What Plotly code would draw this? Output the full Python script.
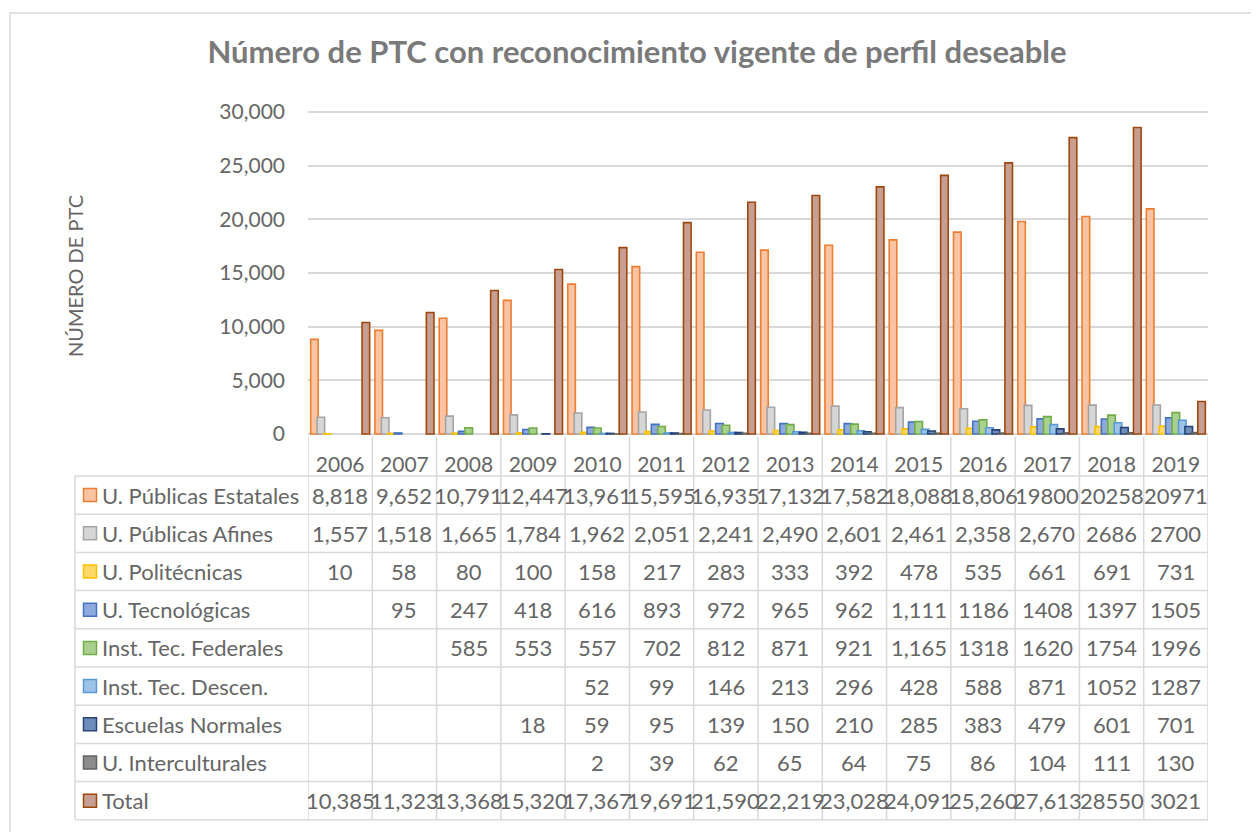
import plotly.graph_objects as go

# ---------------- data ----------------
years = ["2006", "2007", "2008", "2009", "2010", "2011", "2012",
         "2013", "2014", "2015", "2016", "2017", "2018", "2019"]

series_names = ["U. Públicas Estatales", "U. Públicas Afines", "U. Politécnicas",
                "U. Tecnológicas", "Inst. Tec. Federales", "Inst. Tec. Descen.",
                "Escuelas Normales", "U. Interculturales", "Total"]

# table texts exactly as printed (blank = no data)
publicas_estatales = ["8,818", "9,652", "10,791", "12,447", "13,961", "15,595", "16,935",
                      "17,132", "17,582", "18,088", "18,806", "19800", "20258", "20971"]
publicas_afines = ["1,557", "1,518", "1,665", "1,784", "1,962", "2,051", "2,241",
                   "2,490", "2,601", "2,461", "2,358", "2,670", "2686", "2700"]
politecnicas = ["10", "58", "80", "100", "158", "217", "283",
                "333", "392", "478", "535", "661", "691", "731"]
tecnologicas = ["", "95", "247", "418", "616", "893", "972",
                "965", "962", "1,111", "1186", "1408", "1397", "1505"]
tec_federales = ["", "", "585", "553", "557", "702", "812",
                 "871", "921", "1,165", "1318", "1620", "1754", "1996"]
tec_descen = ["", "", "", "", "52", "99", "146",
              "213", "296", "428", "588", "871", "1052", "1287"]
escuelas_normales = ["", "", "", "18", "59", "95", "139",
                     "150", "210", "285", "383", "479", "601", "701"]
interculturales = ["", "", "", "", "2", "39", "62",
                   "65", "64", "75", "86", "104", "111", "130"]
total = ["10,385", "11,323", "13,368", "15,320", "17,367", "19,691", "21,590",
         "22,219", "23,028", "24,091", "25,260", "27,613", "28550", "3021"]

series_texts = [publicas_estatales, publicas_afines, politecnicas, tecnologicas,
                tec_federales, tec_descen, escuelas_normales, interculturales, total]

fill_colors = ["#F8C4A4", "#D6D6D6", "#FFD966", "#8EA9DB", "#A9D08E",
               "#9DC3E6", "#6F8DB9", "#8C8C8C", "#C79E92"]
line_colors = ["#ED7D31", "#A5A5A5", "#FFC000", "#4472C4", "#70AD47",
               "#5B9BD5", "#264478", "#636363", "#9E480E"]

y_ticks = [0, 5000, 10000, 15000, 20000, 25000, 30000]

# ---------------- layout geometry (reference-window pixels) ----------------
OFF = 8                      # page body margin of the html page
WIN_W, WIN_H = 1259, 832
W, H = WIN_W - OFF, WIN_H - OFF
L, R, T, B = 308, 1208, 100, 440   # plot area in window pixels
TABLE_LEFT = 75
TABLE_TOP = 476
ROW_H = 38.2
GRID = "#D9D9D9"
TXT = "#666666"
FONT = "Lato"


def px(xp):
    return (xp - L) / (R - L)


def py(yp):
    return (B - yp) / (B - T)


def to_num(s):
    return int(s.replace(",", "")) if s else None


fig = go.Figure()
x_idx = list(range(len(years)))
n_series = len(series_names)
group_w = 0.9
step = group_w / n_series
bar_w = step * 1.18
for k, (name, texts, fc, lc) in enumerate(zip(series_names, series_texts, fill_colors, line_colors)):
    fig.add_trace(go.Bar(
        x=x_idx, y=[to_num(s) for s in texts], name=name,
        width=bar_w, offset=-group_w / 2 + k * step - (bar_w - step) / 2,
        marker=dict(color=fc, line=dict(color=lc, width=1.6)),
        showlegend=False,
    ))

# y range so that 0 -> 434px and 30000 -> 112px
scale = (434 - 112) / 30000.0
y_lo = -(B - 434) / scale
y_hi = 30000 + (112 - T) / scale

shapes = []
annotations = []

# outer chart border
shapes.append(dict(type="rect", xref="paper", yref="paper",
                   x0=px(10), x1=px(1275), y0=py(13), y1=py(845),
                   line=dict(color="#D9D9D9", width=1.5)))

n_rows = len(series_names)
table_bottom = TABLE_TOP + n_rows * ROW_H

# vertical table lines at category boundaries
for k in range(len(years) + 1):
    shapes.append(dict(type="line", xref="x", yref="paper",
                       x0=k - 0.5, x1=k - 0.5, y0=py(437), y1=py(table_bottom),
                       line=dict(color=GRID, width=1.5)))
# left border of label column
shapes.append(dict(type="line", xref="paper", yref="paper",
                   x0=px(TABLE_LEFT), x1=px(TABLE_LEFT), y0=py(TABLE_TOP), y1=py(table_bottom),
                   line=dict(color=GRID, width=1.5)))
# horizontal row lines
for r in range(n_rows + 1):
    yy = TABLE_TOP + r * ROW_H
    shapes.append(dict(type="line", xref="paper", yref="paper",
                       x0=px(TABLE_LEFT), x1=1, y0=py(yy), y1=py(yy),
                       line=dict(color=GRID, width=1.5)))

# row contents
for r, (name, texts, fc, lc) in enumerate(zip(series_names, series_texts, fill_colors, line_colors)):
    cy = TABLE_TOP + r * ROW_H + ROW_H / 2
    shapes.append(dict(type="rect", xref="paper", yref="paper",
                       x0=px(83.5), x1=px(96.5), y0=py(cy - 6.5), y1=py(cy + 6.5),
                       fillcolor=fc, line=dict(color=lc, width=1.5)))
    annotations.append(dict(xref="paper", yref="paper", x=px(99.5), y=py(cy),
                            text=name, showarrow=False, xanchor="left", yanchor="middle",
                            font=dict(family=FONT, size=22, color=TXT)))
    for i, s in enumerate(texts):
        if s:
            annotations.append(dict(xref="x", yref="paper", x=i, y=py(cy), text=s,
                                    showarrow=False, xanchor="center", yanchor="middle",
                                    font=dict(family=FONT, size=22, color=TXT)))

# y axis title
annotations.append(dict(xref="paper", yref="paper", x=px(75), y=py(276),
                        text="NÚMERO DE PTC", textangle=-90, showarrow=False,
                        xanchor="center", yanchor="middle",
                        font=dict(family=FONT, size=20, color=TXT)))

fig.update_layout(
    width=W, height=H,
    margin=dict(l=L - OFF, r=WIN_W - R, t=T - OFF, b=WIN_H - B),
    paper_bgcolor="white", plot_bgcolor="white",
    barmode="overlay",
    title=dict(text="<b>Número de PTC con reconocimiento vigente de perfil deseable</b>",
               x=(637 - OFF) / W, xanchor="center", y=1 - (52 - OFF) / H, yanchor="middle",
               font=dict(family=FONT, size=31, color="#7A7A7A")),
    xaxis=dict(range=[-0.5, len(years) - 0.5], tickvals=x_idx, ticktext=years,
               showgrid=False, zeroline=False, showline=False, ticks="",
               ticklabelstandoff=10,
               tickfont=dict(family=FONT, size=21, color=TXT)),
    yaxis=dict(range=[y_lo, y_hi], tickvals=y_ticks, tickformat=",d",
               showgrid=True, gridcolor=GRID, gridwidth=1.5, zeroline=False,
               showline=False, ticks="", ticklabelstandoff=22,
               tickfont=dict(family=FONT, size=21, color=TXT)),
    shapes=shapes, annotations=annotations,
)

fig.write_html("out.html")
